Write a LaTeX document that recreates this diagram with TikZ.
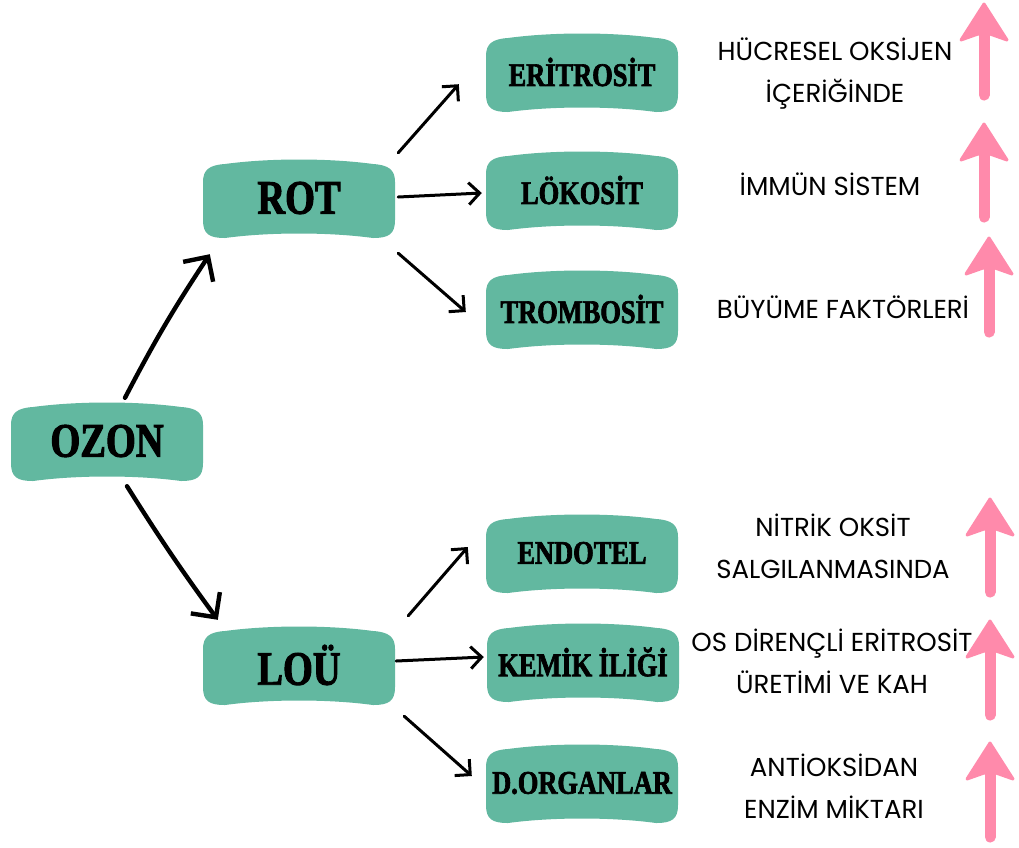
\documentclass[tikz,border=0pt]{standalone}
\usepackage{fontspec}
\usetikzlibrary{arrows.meta,calc,backgrounds}
\newfontfamily\labfont{Poppins}
\newfontfamily\boxfont[FakeStretch=0.8,FakeBold=2]{Liberation Serif}
\definecolor{bannercol}{HTML}{62B8A0}
\definecolor{pinkcol}{HTML}{FF8AAB}
\newcommand\banner[1]{%
  \fill[bannercol,shift={(#1.center)}] (-96,-16) -- (-96,22)
    .. controls (-96,36) and (-90,40) .. (-74,40)
    .. controls (-30,34) and (30,34) .. (74,40)
    .. controls (90,40) and (96,36) .. (96,22) -- (96,-16)
    .. controls (96,-28) and (90,-33) .. (74,-34)
    .. controls (30,-40) and (-30,-40) .. (-74,-34)
    .. controls (-90,-33) and (-96,-28) .. (-96,-16) -- cycle;}
\newcommand\uparr[3]{%
  \filldraw[pinkcol,line width=3pt,line join=round] (#1,#2+2) -- (#1+23,#2+38) -- (#1+6,#2+32) -- (#1-6,#2+32) -- (#1-23,#2+38) -- cycle;
  \draw[pinkcol,line width=11pt,line cap=round] (#1,#2+25) -- (#1,#3-5);}
\begin{document}
\begin{tikzpicture}[x=1pt,y=-1pt,
  box/.style={minimum width=192pt,minimum height=78pt,inner sep=0pt,font=\boxfont\bfseries\fontsize{33}{33}\selectfont},
  bigbox/.style={box,font=\boxfont\bfseries\fontsize{48}{48}\selectfont},
  lab/.style={font=\labfont\fontsize{26}{42}\selectfont,align=center,text=black,inner sep=0pt},
  conn/.style={line width=3pt,line cap=round,-{Straight Barb[length=11pt,width=22pt]}},
  bigconn/.style={line width=4.4pt,line cap=round,-{Straight Barb[length=18pt,width=36pt]}}]
\useasboundingbox (0,0) rectangle (1019,847);
% nodes
\node[bigbox] (ozon) at (107,441) {OZON};
\node[bigbox] (rot) at (299,198) {ROT};
\node[bigbox] (lou) at (299,665) {LOÜ};
\node[box] (eritrosit) at (582,72) {ERİTROSİT};
\node[box] (lokosit) at (582,190) {LÖKOSİT};
\node[box] (trombosit) at (582,309) {TROMBOSİT};
\node[box] (endotel) at (582,553) {ENDOTEL};
\node[box] (kemik) at (583,662) {KEMİK İLİĞİ};
\node[box] (dorgan) at (582,783) {D.ORGANLAR};
\begin{scope}[on background layer]
  \fill[white] (0,0) rectangle (1019,847);
  \banner{ozon}\banner{rot}\banner{lou}
  \banner{eritrosit}\banner{lokosit}\banner{trombosit}
  \banner{endotel}\banner{kemik}\banner{dorgan}
\end{scope}
% labels
\node[lab] (l1) at (835,74) {HÜCRESEL OKSİJEN\\İÇERİĞİNDE};
\node[lab] (l2) at (830,184) {İMMÜN SİSTEM};
\node[lab] (l3) at (843,307) {BÜYÜME FAKTÖRLERİ};
\node[lab] (l4) at (833,546) {NİTRİK OKSİT\\SALGILANMASINDA};
\node[lab] (l5) at (832,661) {OS DİRENÇLİ ERİTROSİT\\ÜRETİMİ VE KAH};
\node[lab] (l6) at (834,786) {ANTİOKSİDAN\\ENZİM MİKTARI};
% connectors
\draw[bigconn] ($(ozon.north)+(18,-4)$) to[bend left=3] ($(rot.south west)+(7,17)$);
\draw[bigconn] ($(ozon.south)+(20,6)$) to[bend right=2] ($(lou.north west)+(15,-6)$);
\draw[conn] ($(rot.north east)+(3,-6)$) -- ($(eritrosit.south west)+(-27,-27)$);
\draw[conn] ($(rot.east)+(3,-1)$) -- ($(lokosit.west)+(-4,3)$);
\draw[conn] ($(rot.south east)+(3,16)$) -- ($(trombosit.west)+(-20,3)$);
\draw[conn] ($(lou.north east)+(13,-10)$) -- ($(endotel.west)+(-18,-6)$);
\draw[conn] ($(lou.east)+(1,-4)$) -- ($(kemik.west)+(-3,-5)$);
\draw[conn] ($(lou.south east)+(9,12)$) -- ($(dorgan.west)+(-14,-7)$);
% pink arrows
\uparr{984}{2}{100}
\uparr{984}{122}{222}
\uparr{989}{236}{337}
\uparr{990}{497}{597}
\uparr{990}{619}{720}
\uparr{990}{741}{842}
\end{tikzpicture}
\end{document}
